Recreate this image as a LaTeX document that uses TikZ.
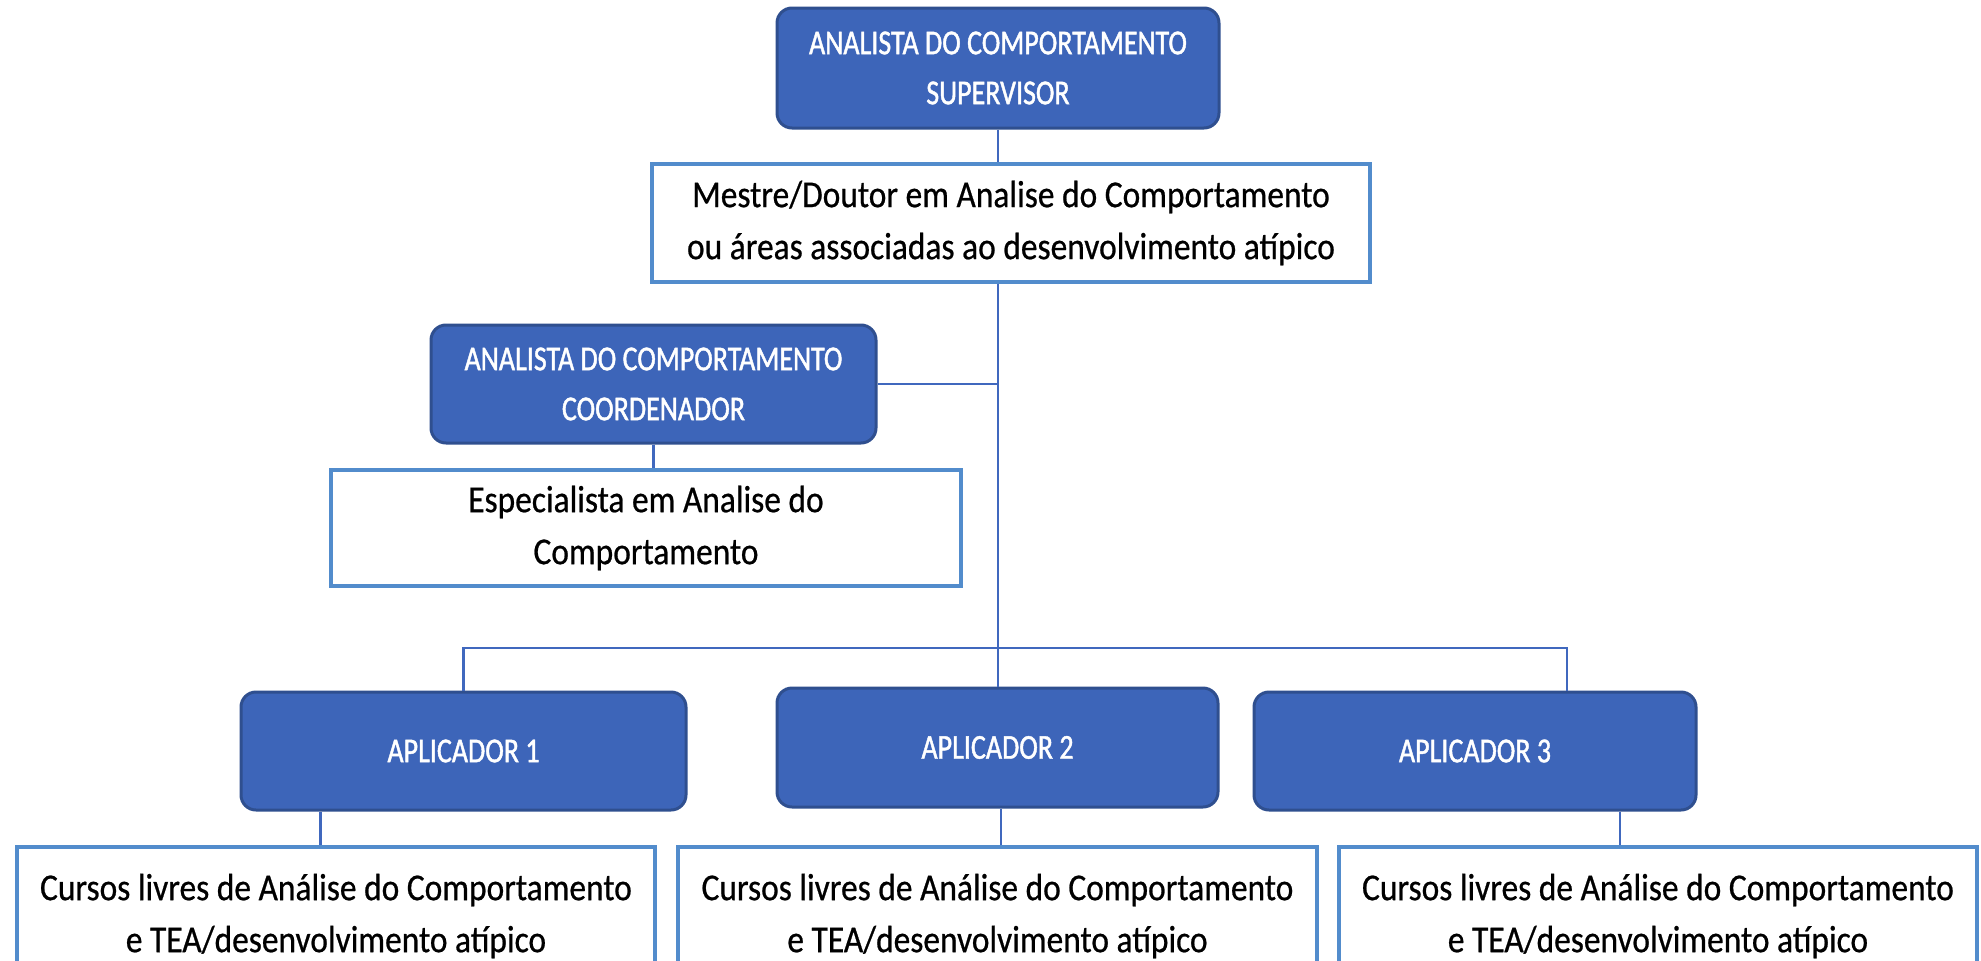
\documentclass[tikz,border=0pt]{standalone}
\usepackage{fontspec}
\setmainfont{Carlito}
\newfontfamily\bodyf[FakeStretch=0.88,FakeBold=0.6]{Carlito}
\newfontfamily\headf[FakeStretch=0.8,FakeBold=1.2]{Carlito}
\definecolor{boxfill}{RGB}{61,101,185}
\definecolor{boxedge}{RGB}{47,79,143}
\definecolor{txtedge}{RGB}{82,140,204}
\definecolor{linkc}{RGB}{64,104,190}
\begin{document}
\begin{tikzpicture}[x=1pt,y=-1pt,
  rolebox/.style={draw=boxedge,line width=3pt,fill=boxfill,rounded corners=15pt,
    text=white,align=center,inner sep=0pt,font=\headf\fontsize{35}{50}\selectfont},
  infobox/.style={draw=txtedge,line width=3.5pt,fill=white,align=center,inner sep=0pt,
    text=black,font=\bodyf\fontsize{38}{52}\selectfont},
  link/.style={draw=linkc,line width=2.5pt}]
\useasboundingbox (0,0) rectangle (1981,961);
\clip (0,0) rectangle (1981,961);
\fill[white] (0,0) rectangle (1981,961);

\coordinate (j) at (998,648);
\coordinate (k) at (1567,648);

\node[rolebox,minimum width=442pt,minimum height=120pt] (sup) at (998,68)
  {ANALISTA DO COMPORTAMENTO\\SUPERVISOR};
\node[infobox,minimum width=718pt,minimum height=118pt] (t1) at (1011,223)
  {Mestre/Doutor em Analise do Comportamento\\ou áreas associadas ao desenvolvimento atípico};
\node[rolebox,minimum width=445pt,minimum height=118pt] (coord) at (653.5,384)
  {ANALISTA DO COMPORTAMENTO\\COORDENADOR};
\node[infobox,minimum width=630pt,minimum height=116pt] (t2) at (646,528)
  {Especialista em Analise do\\Comportamento};
\node[rolebox,minimum width=445pt,minimum height=118pt] (ap1) at (463.5,751) {APLICADOR 1};
\node[rolebox,minimum width=441pt,minimum height=119pt] (ap2) at (997.5,747.5) {APLICADOR 2};
\node[rolebox,minimum width=442pt,minimum height=118pt] (ap3) at (1475,751) {APLICADOR 3};
\node[infobox,minimum width=638pt,minimum height=138pt] (b1) at (336,916)
  {Cursos livres de Análise do Comportamento\\e TEA/desenvolvimento atípico};
\node[infobox,minimum width=639pt,minimum height=138pt] (b2) at (997.5,916)
  {Cursos livres de Análise do Comportamento\\e TEA/desenvolvimento atípico};
\node[infobox,minimum width=638pt,minimum height=138pt] (b3) at (1658,916)
  {Cursos livres de Análise do Comportamento\\e TEA/desenvolvimento atípico};

\path[link] (sup.south) -- (sup.south |- t1.north);
\path[link] (sup.south |- t1.south) -- (j);
\path[link] (coord.east) -- (coord.east -| sup.south);
\path[link] (coord.south) -- (coord.south |- t2.north);
\path[link] (ap1.north) |- (k) -- (k |- ap3.north);
\path[link] (j) -- (j |- ap2.north);
\path[link] ([xshift=-143pt]ap1.south) -- ([xshift=-143pt]ap1.south |- b1.north);
\path[link] ([xshift=3.5pt]ap2.south) -- ([xshift=3.5pt]ap2.south |- b2.north);
\path[link] ([xshift=145pt]ap3.south) -- ([xshift=145pt]ap3.south |- b3.north);
\end{tikzpicture}
\end{document}
